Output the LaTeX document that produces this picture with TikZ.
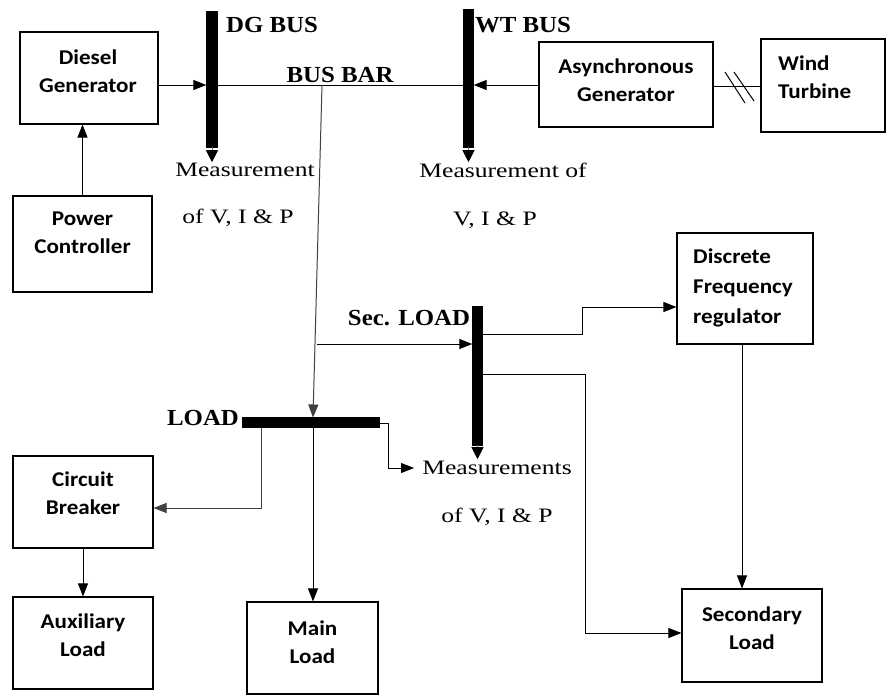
\documentclass[tikz,border=0pt]{standalone}
\usepackage{fontspec}
\setmainfont{Liberation Serif}
\newfontfamily\boxfont[FakeStretch=1.1]{Carlito}
\newfontfamily\measfont[FakeStretch=1.25]{Liberation Serif}
\newfontfamily\busfont[FakeStretch=1.08]{Liberation Serif}
\usetikzlibrary{arrows.meta}
\begin{document}
\begin{tikzpicture}[x=1pt,y=-1pt,
  box/.style={draw, line width=1.1pt, inner sep=0pt},
  btxt/.style={font=\boxfont\bfseries\fontsize{21}{28}\selectfont, align=center, inner sep=0pt},
  mtxt/.style={font=\measfont\fontsize{20.5}{24}\selectfont, inner sep=0pt},
  bustxt/.style={font=\busfont\bfseries\fontsize{23}{26}\selectfont, inner sep=0pt},
  busbar/.style={fill=black, draw=black, inner sep=0pt},
  arr/.style={line width=1pt, -{Triangle[length=13pt,width=10pt]}},
  conn/.style={line width=1pt},
  bartip/.style={line width=1pt, draw=black!60, -{Triangle[length=12pt,width=12pt,color=black]}}
]
\useasboundingbox (0,0) rectangle (891,696);
\fill[white] (0,0) rectangle (891,696);

% boxes
\node[box, minimum width=138pt, minimum height=92pt] (diesel) at (89,78) {};
\node[btxt] (dieselt) at (88,71) {Diesel\\Generator};
\node[box, minimum width=139pt, minimum height=96pt] (power) at (82.5,244) {};
\node[btxt] (powert) at (82.5,233) {Power\\Controller};
\node[box, minimum width=174pt, minimum height=85pt] (async) at (626,84.5) {};
\node[btxt] (asynct) at (626,80) {Asynchronous\\Generator};
\node[box, minimum width=124pt, minimum height=93pt] (wind) at (823,85.5) {};
\node[btxt, align=left, anchor=west] (windt) at (778,77) {Wind\\Turbine};
\node[box, minimum width=136pt, minimum height=111pt] (freq) at (745,288.5) {};
\node[btxt, align=left, anchor=west, font=\boxfont\bfseries\fontsize{21}{30}\selectfont] (freqt) at (693,288) {Discrete\\Frequency\\regulator};
\node[box, minimum width=140pt, minimum height=93pt] (sec) at (752,635.5) {};
\node[btxt] (sect) at (752,628) {Secondary\\Load};
\node[box, minimum width=140pt, minimum height=92pt] (cb) at (83,502) {};
\node[btxt] (cbt) at (83,493) {Circuit\\Breaker};
\node[box, minimum width=140pt, minimum height=92pt] (aux) at (83,643) {};
\node[btxt] (auxt) at (83,635) {Auxiliary\\Load};
\node[box, minimum width=131pt, minimum height=92pt] (main) at (312.5,648) {};
\node[btxt] (maint) at (312.5,642) {Main\\Load};

% bus bars
\node[busbar, minimum width=11pt, minimum height=136pt] (dgbus) at (212,79) {};
\node[busbar, minimum width=10pt, minimum height=138pt] (wtbus) at (468.5,78) {};
\node[busbar, minimum width=10pt, minimum height=139pt] (secbus) at (477.5,375.5) {};
\node[busbar, minimum width=137pt, minimum height=10pt] (loadbus) at (310.5,422.5) {};
\draw[bartip] (dgbus.south) -- ++(0,15);
\draw[bartip] (wtbus.south) -- ++(0,15);
\draw[bartip] (secbus.south) -- ++(0,14);

% bus labels
\node[bustxt] (dgl) at (272,24.5) {DG BUS};
\node[bustxt] (bbl) at (340,75) {BUS BAR};
\node[bustxt] (wtl) at (523,25) {WT BUS};
\node[bustxt] (secl) at (409,318) {Sec. LOAD};
\node[bustxt] (loadl) at (203,418) {LOAD};

% measurement labels
\node[mtxt] (m1a) at (245,170) {Measurement};
\node[mtxt] (m1b) at (238,218) {of V, I \& P};
\node[mtxt] (m2a) at (503,170) {Measurement of};
\node[mtxt] (m2b) at (495,220) {V, I \& P};
\node[mtxt] (m3a) at (497,468) {Measurements};
\node[mtxt] (m3b) at (497,517) {of V, I \& P};

% coordinates
\coordinate (tap) at (322,85);
\coordinate (loadin) at (313,417.5);
\coordinate (secfeed) at (317,344);
\coordinate (m3in) at (414,468);

% connectors
\draw[arr] (power.north) -- (power.north |- diesel.south);
\draw[arr] (diesel.east |- 0,85) -- (dgbus.west |- 0,85);
\draw[conn] (dgbus.east |- 0,85) -- (wtbus.west |- 0,85);
\draw[arr] (async.west |- 0,85) -- (wtbus.east |- 0,85);
\draw[conn] (async.east |- 0,86) -- (wind.west |- 0,86);
\draw[line width=1pt] (725,72) -- (745,103);
\draw[line width=1pt] (734,72) -- (754,101);
\draw[arr, draw=black!75] (tap) -- (loadin);
\draw[arr] (secfeed) -- (secbus.west |- secfeed);
\draw[arr] (secbus.east |- 0,334) -- (582,334) -- (582,307) -- (freq.west |- 0,307);
\draw[arr] (secbus.east |- 0,374) -- (585,374) -- (585,633) -- (sec.west |- 0,633);
\draw[arr] (freq.south -| 742,0) -- (sec.north -| 742,0);
\draw[arr] (loadbus.south -| 313,0) -- (main.north -| 313,0);
\draw[arr, draw=black!75] (loadbus.south -| 261,0) -- (261,508) -- (cb.east |- 0,508);
\draw[arr] (loadbus.east |- 0,423) -- (388,423) -- (388,468) -- (m3in);
\draw[arr] (cb.south) -- (aux.north);
\end{tikzpicture}
\end{document}
